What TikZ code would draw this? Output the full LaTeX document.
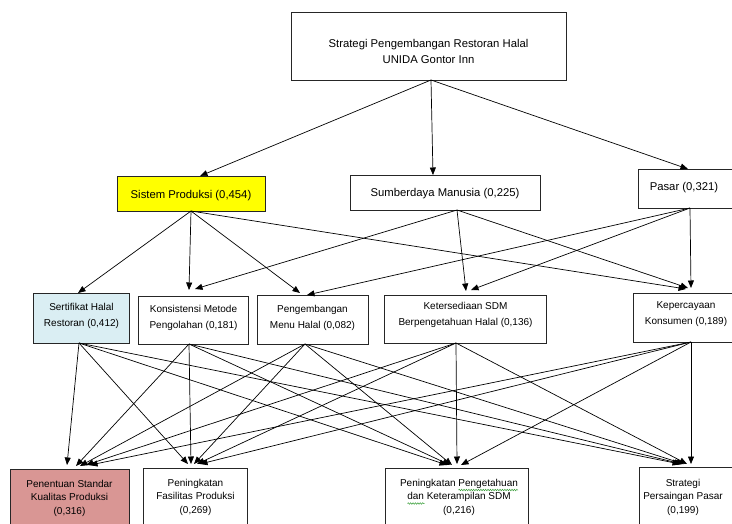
\documentclass[tikz,border=0pt]{standalone}
\usepackage{fontspec}
\setmainfont{Liberation Sans}
\usetikzlibrary{arrows.meta,decorations.pathmorphing}
\definecolor{spyellow}{RGB}{255,255,0}
\definecolor{serblue}{RGB}{218,238,243}
\definecolor{pntpink}{RGB}{217,150,148}
\definecolor{squig}{RGB}{60,160,60}
\begin{document}
\begin{tikzpicture}[x=1pt,y=-1pt,
  box/.style={draw=black!85, line width=0.8pt, inner sep=0pt, anchor=north west},
  tbig/.style={font=\fontsize{11.3}{16}\selectfont, align=center, inner sep=0pt},
  tmid/.style={font=\fontsize{10}{16}\selectfont, align=center, inner sep=0pt},
  tlow/.style={font=\fontsize{10}{13.5}\selectfont, align=center, inner sep=0pt},
  arr/.style={-{Triangle[length=7.5pt,width=6pt]}, line width=0.7pt, black},
  wavy/.style={draw=squig, line width=0.5pt, decorate, decoration={snake, segment length=2.4pt, amplitude=0.8pt}},
]
\useasboundingbox (0,0) rectangle (732,523);
\clip (0,0) rectangle (732,523);
\fill[white] (0,0) rectangle (732,523);

% ---- boxes ----
\node[box, minimum width=275pt, minimum height=68pt] (top) at (291,12) {};
\node[box, fill=spyellow, minimum width=148pt, minimum height=35pt] (sp) at (117,176) {};
\node[box, minimum width=190pt, minimum height=35pt] (sm) at (350,175) {};
\node[box, minimum width=104pt, minimum height=39pt] (ps) at (638,169) {};

\node[box, fill=serblue, minimum width=96pt, minimum height=50pt] (ser) at (33,293) {};
\node[box, minimum width=110pt, minimum height=48pt] (kon) at (138,296) {};
\node[box, minimum width=111pt, minimum height=49pt] (pen) at (257,295) {};
\node[box, minimum width=162pt, minimum height=48pt] (ket) at (384,295) {};
\node[box, minimum width=120pt, minimum height=49pt] (kep) at (633,293) {};

\node[box, fill=pntpink, minimum width=119pt, minimum height=70pt] (pnt) at (10,469) {};
\node[box, minimum width=104pt, minimum height=70pt] (fas) at (143,468) {};
\node[box, minimum width=143pt, minimum height=70pt] (pgt) at (385,468) {};
\node[box, minimum width=100pt, minimum height=70pt] (str) at (639,467) {};

% ---- texts ----
\node[tbig] (top-t) at (428.5,52.6) {\strut Strategi Pengembangan Restoran Halal\\\strut UNIDA Gontor Inn};
\node[tbig] (sp-t) at (191,194.8) {\strut Sistem Produksi (0,454)};
\node[tbig] (sm-t) at (445,193.3) {\strut Sumberdaya Manusia (0,225)};
\node[tbig] (ps-t) at (684,187) {\strut Pasar (0,321)};

\node[tmid] (ser-t) at (81.5,315.5) {\strut Sertifikat Halal\\\strut Restoran (0,412)};
\node[tmid] (kon-t) at (193.5,316.8) {\strut Konsistensi Metode\\\strut Pengolahan (0,181)};
\node[tmid] (pen-t) at (312.5,316.8) {\strut Pengembangan\\\strut Menu Halal (0,082)};
\node[tmid] (ket-t) at (465.5,313.8) {\strut Ketersediaan SDM\\\strut Berpengetahuan Halal (0,136)};
\node[tmid] (kep-t) at (686,312.8) {\strut Kepercayaan\\\strut Konsumen (0,189)};

\node[tlow] (pnt-t) at (69.5,497.8) {\strut Penentuan Standar\\\strut Kualitas Produksi\\\strut (0,316)};
\node[tlow] (fas-t) at (195.5,496.8) {\strut Peningkatan\\\strut Fasilitas Produksi\\\strut (0,269)};
\node[tlow] (pgt-t) at (459,497.1) {\strut Peningkatan Pengetahuan\\\strut dan Keterampilan SDM\\\strut (0,216)};
\node[tlow] (str-t) at (683,497) {\strut Strategi\\\strut Persaingan Pasar\\\strut (0,199)};

% spell-check squiggles
\draw[wavy] (458.5,490) -- (518,490);
\draw[wavy] (407.5,503.5) -- (424.5,503.5);

% ---- connection points ----
\coordinate (top-out) at (431,80);
\coordinate (sp-in) at (200,176);
\coordinate (sm-in) at (433,175);
\coordinate (ps-in) at (688,169);

\coordinate (sp-out) at (191,211);
\coordinate (sm-out) at (457,210);
\coordinate (ps-out) at (690,208);

\coordinate (ser-in) at (78,293);
\coordinate (kon-in-sp) at (189,290);
\coordinate (kon-in-sm) at (195,289);
\coordinate (pen-in-sp) at (300,293);
\coordinate (pen-in-ps) at (307,295);
\coordinate (ket-in-sm) at (466,291);
\coordinate (ket-in-ps) at (471,290);
\coordinate (kep-in-sp) at (686,289);
\coordinate (kep-in-sm) at (688,288);
\coordinate (kep-in-ps) at (691,288);

\coordinate (ser-out) at (79,343);
\coordinate (kon-out) at (189,344);
\coordinate (pen-out) at (305,344);
\coordinate (ket-out) at (456,343);
\coordinate (kep-out) at (691,342);

\coordinate (pnt-in-ser) at (67,465);
\coordinate (pnt-in-kon) at (76,466);
\coordinate (pnt-in-pen) at (80,466);
\coordinate (pnt-in-ket) at (86,465);
\coordinate (pnt-in-kep) at (90,465);

\coordinate (fas-in-ser) at (188,464);
\coordinate (fas-in-kon) at (191,464);
\coordinate (fas-in-pen) at (194,464);
\coordinate (fas-in-ket) at (197,464);
\coordinate (fas-in-kep) at (200,464);

\coordinate (pgt-in-ser) at (447,465);
\coordinate (pgt-in-kon) at (450,465);
\coordinate (pgt-in-pen) at (452,465);
\coordinate (pgt-in-ket) at (457,464);
\coordinate (pgt-in-kep) at (461,465);

\coordinate (str-in-ser) at (680,464);
\coordinate (str-in-kon) at (682,464);
\coordinate (str-in-pen) at (684,464);
\coordinate (str-in-ket) at (687,464);
\coordinate (str-in-kep) at (691,464);

% ---- connectors ----
\draw[arr] (top-out) -- (sp-in);
\draw[arr] (top-out) -- (sm-in);
\draw[arr] (top-out) -- (ps-in);

\draw[arr] (sp-out) -- (ser-in);
\draw[arr] (sp-out) -- (kon-in-sp);
\draw[arr] (sp-out) -- (pen-in-sp);
\draw[arr] (sp-out) -- (kep-in-sp);

\draw[arr] (sm-out) -- (kon-in-sm);
\draw[arr] (sm-out) -- (ket-in-sm);
\draw[arr] (sm-out) -- (kep-in-sm);

\draw[arr] (ps-out) -- (pen-in-ps);
\draw[arr] (ps-out) -- (ket-in-ps);
\draw[arr] (ps-out) -- (kep-in-ps);

\foreach \s in {ser,kon,pen,ket,kep}{
  \foreach \t in {pnt,fas,pgt,str}{
    \draw[arr] (\s-out) -- (\t-in-\s);
  }
}
\end{tikzpicture}
\end{document}
